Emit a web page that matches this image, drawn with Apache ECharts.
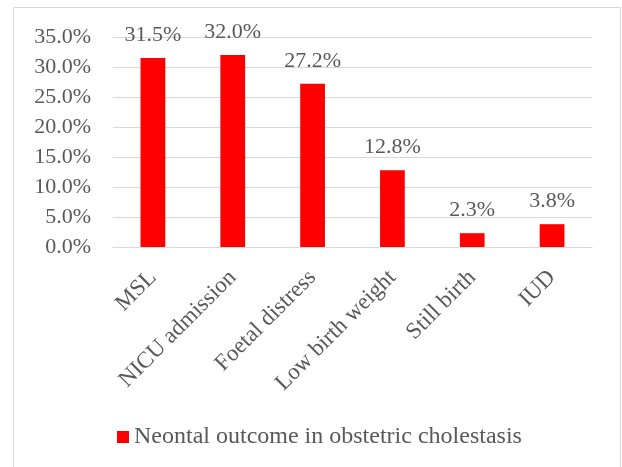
<!DOCTYPE html>
<html>
<head>
<meta charset="utf-8">
<style>
  html, body { margin: 0; padding: 0; background: #ffffff; }
  #chart { width: 622px; height: 467px; }
</style>
<script src="https://cdn.jsdelivr.net/npm/echarts@6/dist/echarts.min.js"></script>
</head>
<body>
<div id="chart"></div>
<script>
// Neonatal outcomes (percent of cases)
const categories = ['MSL', 'NICU admission', 'Foetal distress', 'Low birth weight', 'Still birth', 'IUD'];
const outcomePercent = [31.5, 32.0, 27.2, 12.8, 2.3, 3.8];
const seriesName = 'Neontal outcome in obstetric cholestasis';
const yMin = 0, yMax = 35, yStep = 5;

const textFont = 'Liberation Serif, Times New Roman, serif';
const textColor = '#595959';

const chart = echarts.init(document.getElementById('chart'), null, { renderer: 'canvas' });

chart.setOption({
  backgroundColor: '#ffffff',
  animation: false,
  graphic: [{
    type: 'rect',
    shape: { x: 13.5, y: 7.5, width: 607, height: 480 },
    style: { fill: 'none', stroke: '#d9d9d9', lineWidth: 1 },
    silent: true,
    z: -10
  }],
  grid: { left: 113, right: 30, top: 37, bottom: 220 },
  legend: {
    data: [seriesName],
    top: 425,
    left: 117,
    padding: 0,
    itemWidth: 12,
    itemHeight: 12,
    itemGap: 5,
    icon: 'rect',
    textStyle: { fontFamily: textFont, fontSize: 24, color: textColor }
  },
  xAxis: {
    type: 'category',
    data: categories,
    axisLine: { lineStyle: { color: '#d9d9d9', width: 1 } },
    axisTick: { show: false },
    axisLabel: {
      rotate: 45,
      interval: 0,
      margin: 27,
      fontFamily: textFont,
      fontSize: 23,
      color: textColor
    }
  },
  yAxis: {
    type: 'value',
    min: yMin,
    max: yMax,
    interval: yStep,
    axisLine: { show: false },
    axisTick: { show: false },
    splitLine: { lineStyle: { color: '#d9d9d9', width: 1 } },
    axisLabel: {
      margin: 22,
      fontFamily: textFont,
      fontSize: 22,
      color: textColor,
      formatter: v => v.toFixed(1) + '%'
    }
  },
  series: [{
    name: seriesName,
    type: 'bar',
    data: outcomePercent,
    barWidth: '31%',
    itemStyle: { color: '#ff0000' },
    label: {
      show: true,
      position: 'top',
      distance: 12,
      fontFamily: textFont,
      fontSize: 22,
      color: textColor,
      formatter: p => p.value.toFixed(1) + '%'
    }
  }]
});
</script>
</body>
</html>
